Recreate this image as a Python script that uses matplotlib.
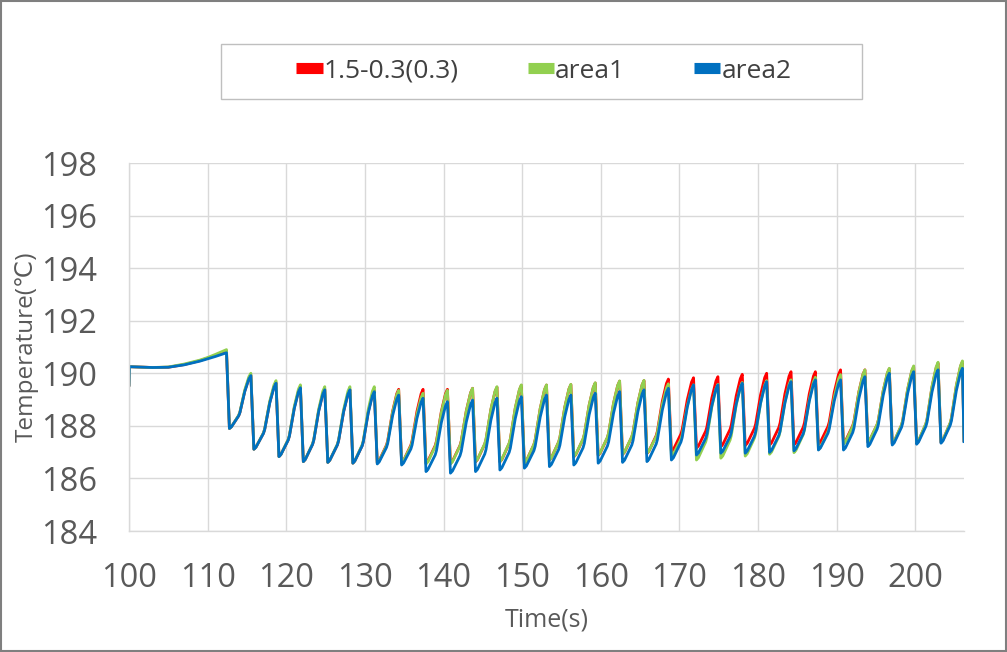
import matplotlib
matplotlib.use("Agg")
import matplotlib.pyplot as plt
from matplotlib.lines import Line2D
from matplotlib.patches import Rectangle

# ---------------- data ----------------
series_names = ["1.5-0.3(0.3)", "area1", "area2"]
series_colors = ["#FF0000", "#92D050", "#0070C0"]

init_t = [100.0, 100.05, 103, 105, 107, 109, 110, 111, 112.4]
red_init = [189.55, 190.25, 190.22, 190.23, 190.33, 190.48, 190.58, 190.68, 190.85]
green_init = [189.55, 190.25, 190.22, 190.24, 190.35, 190.50, 190.60, 190.72, 190.90]
blue_init = [189.55, 190.25, 190.22, 190.23, 190.32, 190.46, 190.55, 190.64, 190.78]

peak_t = [115.5, 118.7, 121.8, 124.9, 128.1, 131.2, 134.3, 137.4, 140.5, 143.7,
          146.8, 149.9, 153.1, 156.2, 159.3, 162.4, 165.5, 168.6, 171.8, 174.9,
          178.0, 181.1, 184.2, 187.3, 190.5, 193.6, 196.7, 199.8, 202.9, 206.0]

red_peak = [189.93, 189.65, 189.48, 189.40, 189.38, 189.35, 189.39, 189.39, 189.39, 189.43,
            189.47, 189.54, 189.55, 189.57, 189.63, 189.70, 189.72, 189.78, 189.83, 189.87,
            189.96, 190.00, 190.06, 190.06, 190.13, 190.13, 190.17, 190.25, 190.38, 190.44]
red_trough = [187.90, 187.11, 186.83, 186.64, 186.61, 186.58, 186.60, 186.60, 186.58, 186.57,
              186.63, 186.63, 186.58, 186.70, 186.82, 186.88, 186.91, 186.95, 187.02, 187.15,
              187.21, 187.25, 187.27, 187.28, 187.30, 187.34, 187.38, 187.32, 187.34, 187.37]
red_end = 187.44

green_peak = [190.00, 189.72, 189.56, 189.49, 189.49, 189.49, 189.35, 189.24, 189.35, 189.43,
              189.49, 189.56, 189.56, 189.58, 189.64, 189.71, 189.73, 189.60, 189.56, 189.58,
              189.65, 189.72, 189.75, 189.85, 189.95, 190.13, 190.19, 190.28, 190.42, 190.47]
green_trough = [187.90, 187.11, 186.83, 186.64, 186.61, 186.58, 186.58, 186.60, 186.55, 186.55,
                186.64, 186.64, 186.58, 186.70, 186.83, 186.89, 186.92, 186.96, 186.85, 186.70,
                186.77, 186.85, 186.92, 186.98, 187.10, 187.30, 187.38, 187.33, 187.35, 187.38]
green_end = 187.45

blue_peak = [189.91, 189.62, 189.45, 189.37, 189.37, 189.30, 189.17, 189.05, 188.92, 188.98,
             189.05, 189.11, 189.17, 189.17, 189.24, 189.30, 189.37, 189.43, 189.56, 189.56,
             189.62, 189.68, 189.68, 189.75, 189.75, 189.87, 190.00, 190.06, 190.13, 190.19]
blue_trough = [187.90, 187.11, 186.83, 186.64, 186.61, 186.58, 186.55, 186.51, 186.26, 186.20,
               186.26, 186.32, 186.39, 186.45, 186.51, 186.58, 186.61, 186.64, 186.70, 186.89,
               186.96, 186.96, 186.99, 187.05, 187.08, 187.08, 187.21, 187.27, 187.30, 187.34]
blue_end = 187.40

t_end = 206.2

# shape of one cycle (fraction of cycle time, fraction of rise trough->peak)
SHAPE_DT = [0.12, 0.20, 0.50, 0.55, 0.75, 0.92, 1.0]
SHAPE_FRAC = [0.0, 0.03, 0.24, 0.30, 0.70, 0.94, 1.0]

x_ticks = list(range(100, 201, 10))
y_ticks = list(range(184, 199, 2))


def build(init_v, peaks, troughs, end_v):
    ts = list(init_t)
    vs = list(init_v)
    starts = [init_t[-1]] + peak_t[:-1]
    for k in range(len(peak_t)):
        t0, t1 = starts[k], peak_t[k]
        P = t1 - t0
        tr, pk = troughs[k], peaks[k]
        for d, f in zip(SHAPE_DT, SHAPE_FRAC):
            ts.append(t0 + d * P)
            vs.append(tr + f * (pk - tr))
    ts.append(t_end)
    vs.append(end_v)
    return ts, vs


series = [build(red_init, red_peak, red_trough, red_end),
          build(green_init, green_peak, green_trough, green_end),
          build(blue_init, blue_peak, blue_trough, blue_end)]

# ---------------- figure ----------------
plt.rcParams['font.family'] = ['Open Sans', 'DejaVu Sans']
W, H = 1007, 652
fig = plt.figure(figsize=(W / 100, H / 100), dpi=100)
fig.patch.set_facecolor("white")

ax = fig.add_axes([129 / W, 1 - 531 / H, (964 - 129) / W, (531 - 163) / H])
for (ts, vs), c, n in zip(series, series_colors, series_names):
    ax.plot(ts, vs, color=c, lw=2.0, label=n, solid_joinstyle='round')

ax.set_xlim(100, t_end)
ax.set_ylim(184, 198)
ax.set_xticks(x_ticks)
ax.set_yticks(y_ticks)
ax.grid(True, color="#D9D9D9", lw=1)
ax.set_axisbelow(True)
for s in ["top", "right"]:
    ax.spines[s].set_visible(False)
for s in ["left", "bottom"]:
    ax.spines[s].set_color("#D9D9D9")
    ax.spines[s].set_linewidth(1)
ax.tick_params(axis='both', length=0, labelsize=23.5, colors="#595959")
ax.tick_params(axis='x', pad=22)
ax.tick_params(axis='y', pad=23)
ax.set_xlabel("Time(s)", fontsize=18, color="#595959", labelpad=9)
ax.set_ylabel("Temperature(℃)", fontsize=17.5, color="#595959")
ax.yaxis.set_label_coords(-0.108, 0.5)

# legend box
fig.patches.append(Rectangle((221 / W, 1 - 99 / H), (862 - 221) / W, (99 - 44) / H,
                             transform=fig.transFigure, fill=True, facecolor="white",
                             edgecolor="#BFBFBF", lw=1))
handles = [Line2D([0], [0], color=c, lw=8, solid_capstyle='butt') for c in series_colors]
fig.legend(handles, series_names, loc="center", ncol=3, frameon=False,
           bbox_to_anchor=(544 / W, 1 - 71 / H), fontsize=19, handlelength=1.0,
           handletextpad=0.05, columnspacing=2.6, labelcolor="#404040")

# outer border
fig.patches.append(Rectangle((0.001, 0.001), 0.998, 0.998, transform=fig.transFigure,
                             fill=False, edgecolor="#7F7F7F", lw=1.5))

fig.savefig("out.png", dpi=100)
